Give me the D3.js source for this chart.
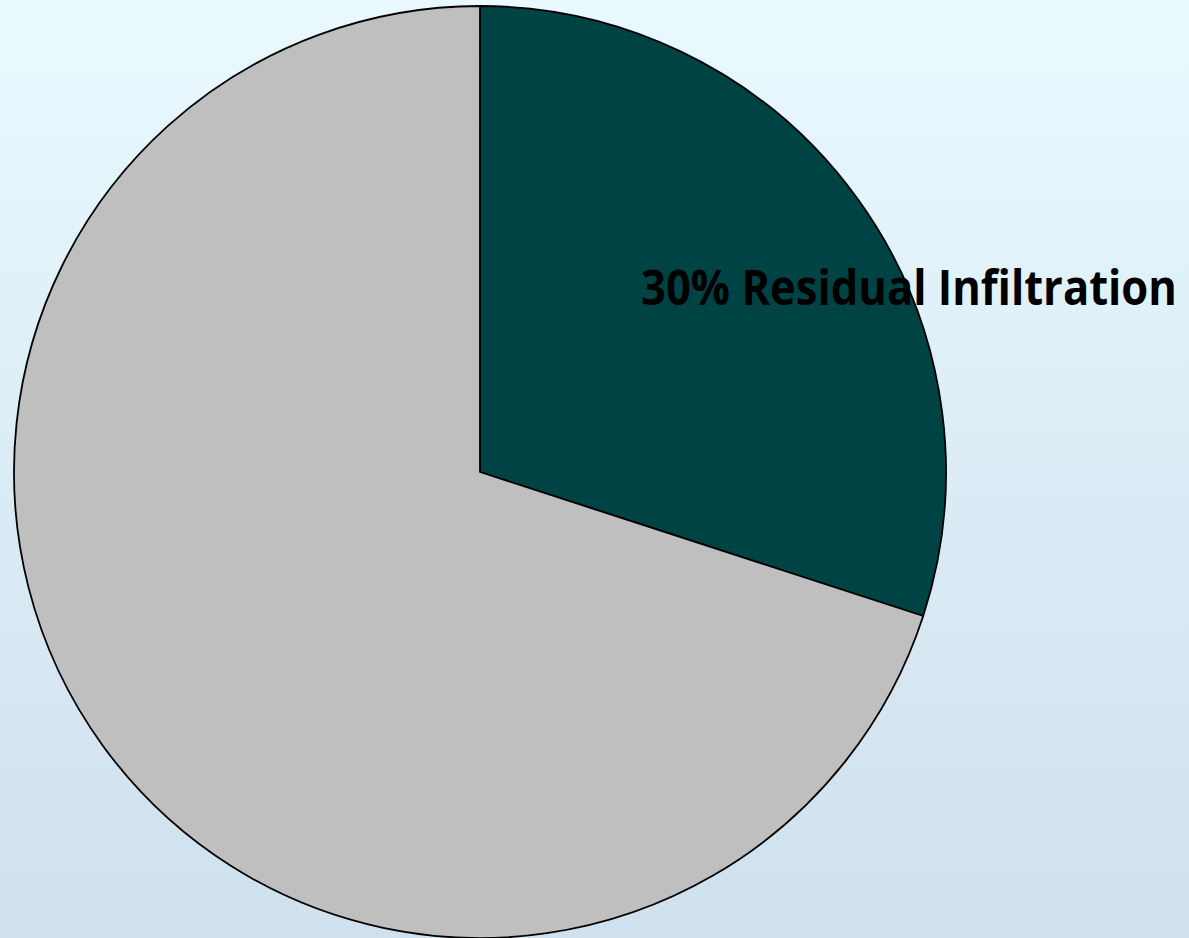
<!DOCTYPE html>
<html>
<head>
<meta charset="utf-8">
<script src="https://cdn.jsdelivr.net/npm/d3@7"></script>
<style>
html,body{margin:0;padding:0;overflow:hidden;}
svg{display:block;}
</style>
</head>
<body>
<svg id="chart" width="1189" height="938"></svg>
<script>
const categories = ["Residual Infiltration", "Other"];
const values = [30, 70];
const colors = ["#004345", "#bfbfbf"];
const labels = ["30% Residual Infiltration", ""];

const W = 1189, H = 938;
const svg = d3.select("#chart");
const defs = svg.append("defs");
const grad = defs.append("linearGradient").attr("id","bg").attr("x1",0).attr("y1",0).attr("x2",0).attr("y2",1);
grad.append("stop").attr("offset","0%").attr("stop-color","#e9f9fe");
grad.append("stop").attr("offset","100%").attr("stop-color","#cfe0ee");
svg.append("rect").attr("width",W).attr("height",H).attr("fill","url(#bg)");

const cx = 480, cy = 472, r = 466;
const pie = d3.pie().sort(null).value(d => d.v);
const arc = d3.arc().innerRadius(0).outerRadius(r);
const data = categories.map((c,i)=>({c, v: values[i], col: colors[i], label: labels[i]}));
const g = svg.append("g").attr("transform",`translate(${cx},${cy})`);
g.selectAll("path").data(pie(data)).enter().append("path")
  .attr("d", arc)
  .attr("fill", d => d.data.col)
  .attr("stroke", "#000")
  .attr("stroke-width", 1.8)
  .attr("stroke-linejoin","round");

// label: fit natural width to target, then stretch vertically to match cap height
const targetW = 536, baseSize = 48, lx = 909, ly = 305;
const lg = svg.append("g").attr("transform", `translate(${lx},${ly})`);
const t = lg.append("text")
  .attr("x", 0).attr("y", 0)
  .attr("text-anchor","middle")
  .attr("font-family","'Open Sans', sans-serif")
  .attr("font-weight","bold")
  .attr("font-size", baseSize)
  .attr("fill","#000")
  .text(data[0].label);
const natural = t.node().getComputedTextLength();
const fs = baseSize * targetW / natural;
t.attr("font-size", fs);
lg.attr("transform", `translate(${lx},${ly}) scale(1,${baseSize / fs})`);
</script>
</body>
</html>
